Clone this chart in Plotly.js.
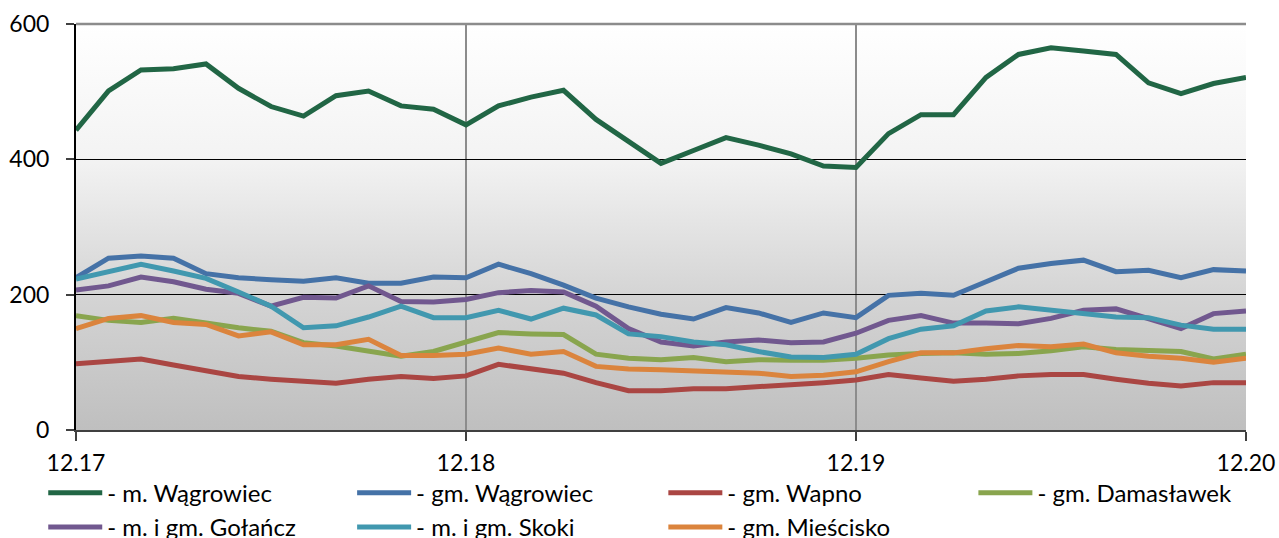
<!DOCTYPE html>
<html>
<head>
<meta charset="utf-8">
<script src="https://cdn.plot.ly/plotly-3.0.1.min.js"></script>
<style>
html,body{margin:0;padding:0;background:#fff;}
#chart{width:1279px;height:538px;}
</style>
</head>
<body>
<div id="chart"></div>
<script>
// Tick labels (days) and sampling step (hours between readings)
const dayLabels = ['12.17', '12.18', '12.19', '12.20'];
const stepHours = 2;

// Series values
const mWagrowiec = [443,501,532,534,541,505,478,464,494,501,479,474,451,479,492,502,459,427,394,413,432,421,408,390,388,438,466,466,521,555,565,560,555,513,497,512,521];
const gmWagrowiec = [225,254,257,254,231,225,222,220,225,217,217,226,225,245,231,214,195,182,171,164,181,173,159,173,166,199,202,199,219,239,246,251,234,236,225,237,235];
const gmWapno = [98,101,105,96,87,79,75,72,69,75,79,76,80,97,91,84,70,58,58,61,61,64,66,70,74,82,77,72,75,80,82,82,75,69,65,70,70];
const gmDamaslawek = [169,162,159,165,158,151,146,129,124,117,109,116,130,144,142,141,112,106,104,107,101,104,103,103,106,111,113,114,112,113,117,123,119,118,116,105,112];
const mGolancz = [207,213,226,219,208,202,183,196,195,213,190,189,193,203,206,204,183,150,130,124,130,133,129,130,143,162,169,158,158,157,165,177,179,164,150,172,176];
const mSkoki = [223,234,245,235,224,204,183,151,154,167,183,166,166,177,164,180,170,142,138,130,126,116,108,107,112,135,149,154,176,182,177,172,167,166,155,149,149];
const gmMiescisko = [150,165,169,159,156,139,145,126,126,134,110,110,112,121,112,116,94,90,89,87,85,84,79,81,86,101,114,114,120,125,123,127,114,109,106,100,106];

const seriesNames = ['- m. Wągrowiec', '- gm. Wągrowiec', '- gm. Wapno', '- gm. Damasławek', '- m. i gm. Gołańcz', '- m. i gm. Skoki', '- gm. Mieścisko'];
const seriesData = [mWagrowiec, gmWagrowiec, gmWapno, gmDamaslawek, mGolancz, mSkoki, gmMiescisko];
const seriesColors = ['#216645', '#4572A7', '#AA4643', '#89A54E', '#71588F', '#4198AF', '#DB843D'];
// legend column each series belongs to (4 columns, 2 rows)
const seriesLegend = ['legend', 'legend2', 'legend3', 'legend4', 'legend', 'legend2', 'legend3'];

const xHours = mWagrowiec.map((_, i) => i * stepHours);
const tickVals = dayLabels.map((_, i) => i * 24);

const FONT = 'Lato, "Open Sans", sans-serif';

const traces = seriesData.map((ys, k) => ({
  type: 'scatter',
  mode: 'lines',
  name: seriesNames[k],
  legend: seriesLegend[k],
  x: xHours,
  y: ys,
  line: {color: seriesColors[k], width: 5},
  hoverinfo: 'x+y+name'
}));

const svg = '<svg xmlns="http://www.w3.org/2000/svg" width="10" height="100" preserveAspectRatio="none">' +
  '<defs><linearGradient id="g" x1="0" y1="0" x2="0" y2="1">' +
  '<stop offset="0" stop-color="#ffffff"/>' +
  '<stop offset="0.33" stop-color="#f3f3f3"/>' +
  '<stop offset="0.67" stop-color="#d4d4d4"/>' +
  '<stop offset="1" stop-color="#bfbfbf"/>' +
  '</linearGradient></defs><rect x="0" y="0" width="10" height="100" fill="url(#g)"/></svg>';

function legendAt(xp) {
  return {
    orientation: 'v',
    x: xp, xanchor: 'left',
    y: -0.1, yanchor: 'top',
    itemwidth: 54,
    traceorder: 'normal',
    font: {family: FONT, size: 24, color: '#000000'},
    bgcolor: 'rgba(0,0,0,0)',
    borderwidth: 0
  };
}

const layout = {
  width: 1279,
  height: 538,
  margin: {l: 76, r: 33, t: 24, b: 108, autoexpand: false},
  paper_bgcolor: '#ffffff',
  plot_bgcolor: 'rgba(0,0,0,0)',
  font: {family: FONT, size: 23, color: '#000000'},
  showlegend: true,
  legend: legendAt(-0.028),
  legend2: legendAt(0.236),
  legend3: legendAt(0.502),
  legend4: legendAt(0.767),
  xaxis: {
    range: [0, (mWagrowiec.length - 1) * stepHours],
    tickmode: 'array',
    tickvals: tickVals,
    ticktext: dayLabels,
    showgrid: true,
    gridcolor: '#8c8c8c',
    gridwidth: 2,
    zeroline: false,
    showline: true,
    linecolor: '#404040',
    linewidth: 2,
    ticks: 'outside',
    ticklen: 9,
    tickwidth: 2,
    tickcolor: '#404040',
    ticklabelstandoff: 2,
    tickfont: {family: FONT, size: 23, color: '#000000'},
    fixedrange: true
  },
  yaxis: {
    range: [0, 600],
    tickmode: 'array',
    tickvals: [0, 200, 400, 600],
    showgrid: true,
    gridcolor: '#000000',
    gridwidth: 1,
    zeroline: false,
    showline: true,
    linecolor: '#000000',
    linewidth: 2,
    ticks: 'outside',
    ticklen: 8,
    tickwidth: 2,
    tickcolor: '#404040',
    ticklabelstandoff: 12,
    tickfont: {family: FONT, size: 23, color: '#000000'},
    fixedrange: true
  },
  images: [{
    source: 'data:image/svg+xml;charset=utf-8,' + encodeURIComponent(svg),
    xref: 'paper', yref: 'paper',
    x: 0, y: 1, sizex: 1, sizey: 1,
    xanchor: 'left', yanchor: 'top',
    sizing: 'stretch',
    layer: 'below'
  }],
  shapes: [{
    type: 'line', xref: 'paper', yref: 'paper',
    x0: 0, x1: 1, y0: 1, y1: 1,
    line: {color: '#8c8c8c', width: 2.5}
  }]
};

Plotly.newPlot('chart', traces, layout, {displayModeBar: false, responsive: false});
</script>
</body>
</html>
